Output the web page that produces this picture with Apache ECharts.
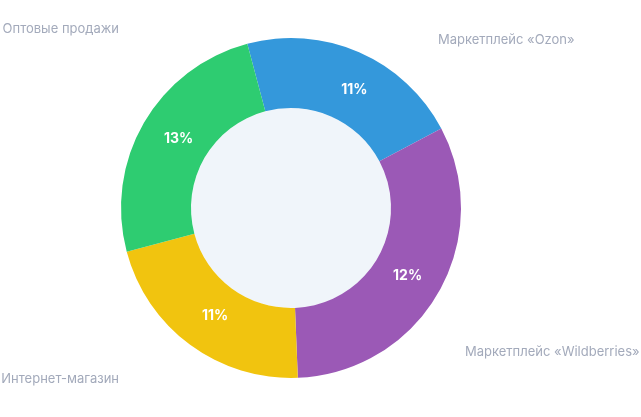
<!DOCTYPE html>
<html>
<head>
<meta charset="utf-8">
<script src="https://cdn.jsdelivr.net/npm/echarts@6/dist/echarts.min.js"></script>
<style>
html,body{margin:0;padding:0;background:#fff;}
#chart{width:641px;height:417px;}
</style>
</head>
<body>
<div id="chart"></div>
<script>
// Data
var categories = ['Маркетплейс «Ozon»', 'Маркетплейс «Wildberries»', 'Интернет-магазин', 'Оптовые продажи'];
var sliceShares = [21.4, 32.1, 21.5, 25.0];   // slice sizes
var labelPercents = [11, 12, 11, 13];         // printed slice labels

// Styles / layout
var colors = ['#3498db', '#9b59b6', '#f1c40f', '#2ecc71'];
var outerLabelPos = [
  {x: 438, y: 40, align: 'left'},
  {x: 465, y: 352, align: 'left'},
  {x: 119, y: 379, align: 'right'},
  {x: 119, y: 29, align: 'right'}
];
var innerLabelShift = [
  {dx: 8, dy: 8},
  {dx: -3, dy: -1},
  {dx: 6, dy: -3},
  {dx: 7, dy: 0}
];

var chart = echarts.init(document.getElementById('chart'), null, {renderer: 'canvas'});

var data = categories.map(function (c, i) {
  return {name: c, value: sliceShares[i], itemStyle: {color: colors[i]}};
});
var ghostData = categories.map(function (c, i) {
  return {name: c, value: sliceShares[i], itemStyle: {color: 'rgba(0,0,0,0)'}};
});

chart.setOption({
  animation: false,
  series: [
    {
      type: 'pie',
      center: [291, 208],
      radius: [0, 100],
      silent: true,
      label: {show: false},
      labelLine: {show: false},
      data: [{value: 1, itemStyle: {color: '#f0f5fa'}}],
      z: 1
    },
    {
      type: 'pie',
      center: [291, 208],
      radius: [100, 170],
      startAngle: 104.9,
      clockwise: true,
      silent: true,
      label: {
        show: true,
        position: 'inside',
        formatter: function (p) { return labelPercents[p.dataIndex] + '%'; },
        color: '#ffffff',
        fontFamily: 'Inter',
        fontWeight: 'bold',
        fontSize: 14
      },
      labelLine: {show: false},
      labelLayout: function (p) {
        var s = innerLabelShift[p.dataIndex];
        return {dx: s.dx, dy: s.dy};
      },
      data: data,
      z: 2
    },
    {
      type: 'pie',
      center: [291, 208],
      radius: [100, 170],
      startAngle: 104.9,
      clockwise: true,
      silent: true,
      label: {
        show: true,
        position: 'outside',
        formatter: '{b}',
        color: '#a3aabb',
        fontFamily: 'Inter',
        fontSize: 13,
        overflow: 'none',
        width: 400
      },
      labelLine: {show: false},
      labelLayout: function (p) {
        var o = outerLabelPos[p.dataIndex];
        return {x: o.x, y: o.y, align: o.align, verticalAlign: 'middle', hideOverlap: false};
      },
      data: ghostData,
      z: 3
    }
  ]
});
</script>
</body>
</html>
